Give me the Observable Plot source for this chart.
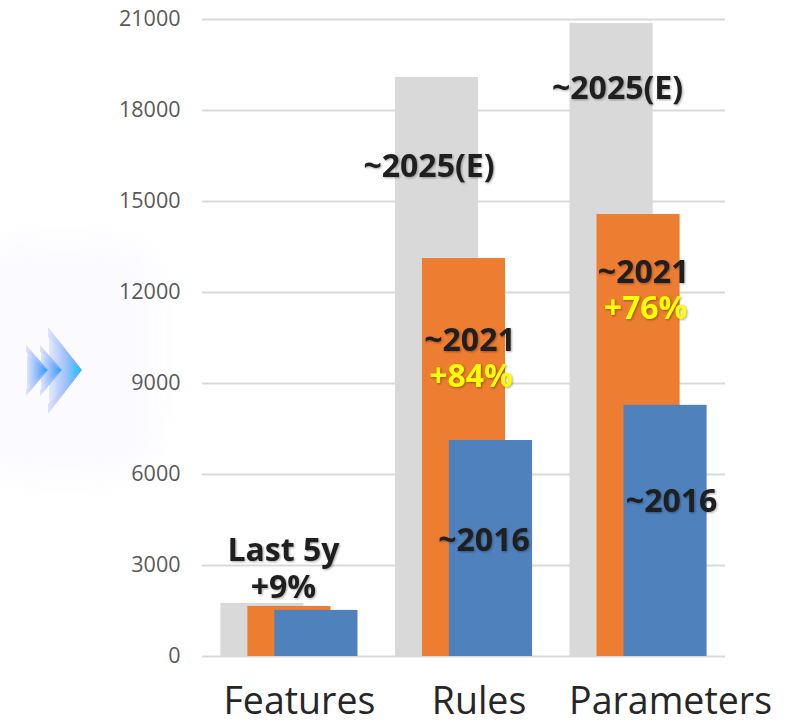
<!DOCTYPE html>
<html>
<head>
<meta charset="utf-8">
<script src="https://cdn.jsdelivr.net/npm/d3@7"></script>
<script src="https://cdn.jsdelivr.net/npm/@observablehq/plot@0.6"></script>
<style>
  html, body { margin: 0; padding: 0; background: #fff; }
  #wrap { position: relative; width: 797px; height: 720px; overflow: hidden; font-family: "Open Sans", sans-serif; }
  #glow { position: absolute; left: -30px; top: 240px; width: 190px; height: 240px; border-radius: 25%;
          background: #fbfbff; filter: blur(14px); }
  #chart { position: absolute; left: 0; top: 0; }
  #arrows { position: absolute; left: 0; top: 300px; }
  .shadow text { filter: drop-shadow(1px 1.5px 1px rgba(0,0,0,.35)); }
</style>
</head>
<body>
<div id="wrap">
  <div id="glow"></div>
  <div id="chart"></div>
  <svg id="arrows" width="140" height="140" viewBox="0 0 140 140" aria-hidden="true">
    <defs>
      <linearGradient id="ag" x1="0" x2="1" y1="0" y2="0">
        <stop offset="0" stop-color="#e4e9fd"/>
        <stop offset=".55" stop-color="#9cc0fb"/>
        <stop offset="1" stop-color="#08c6ff"/>
      </linearGradient>
      <linearGradient id="ab" x1="0" x2="1" y1="0" y2="0">
        <stop offset="0" stop-color="#dde4fd"/>
        <stop offset=".6" stop-color="#7fb2fb"/>
        <stop offset="1" stop-color="#1ea2ff"/>
      </linearGradient>
      <linearGradient id="ae" x1="0" x2="1" y1="0" y2="0">
        <stop offset="0" stop-color="#dfe3fc"/>
        <stop offset="1" stop-color="#5f9dff"/>
      </linearGradient>
    </defs>
    <polygon points="48,27 82,70 48,114 48,104 76,70 48,37" fill="url(#ae)"/>
    <polygon points="49,38 81,70 49,102" fill="url(#ag)"/>
    <polygon points="40,45 62,70 40,96 40,90 57,70 40,52" fill="url(#ae)"/>
    <polygon points="41,54 61,70 41,88" fill="url(#ab)"/>
    <polygon points="26,45 48,70 26,96 26,90 43,70 26,52" fill="url(#ae)"/>
    <polygon points="27,54 47,70 27,88" fill="url(#ab)"/>
  </svg>
</div>
<script>
const categories = ["Features", "Rules", "Parameters"];
const values2025 = [1750, 19090, 20870];
const values2021 = [1650, 13120, 14570];
const values2016 = [1520, 7120, 8280];
const yTicks = [0, 3000, 6000, 9000, 12000, 15000, 18000, 21000];

const grey = "#d9d9d9", orange = "#ed7d31", blue = "#4f81bd";

const rows = v => categories.map((c, i) => ({category: c, value: v[i]}));
const bars = (v, fill, dx) => Plot.barY(rows(v), {x: "category", y: "value", fill, dx});

const note = (text, category, y, dx, fill = "#1f1f1f") =>
  Plot.text([{text, category, y}], {
    x: "category", y: "y", text: "text", dx, fill,
    fontSize: 32, fontWeight: 700, fontFamily: "Open Sans", className: "shadow"
  });

const catAxis = (category, dx) =>
  Plot.axisX({
    ticks: [category], tickSize: 0, tickPadding: 31, dx, label: null,
    fontSize: 37.5, fontFamily: "Open Sans", color: "#262626"
  });

const chart = Plot.plot({
  width: 797, height: 720,
  marginLeft: 202, marginRight: 72, marginTop: 19, marginBottom: 64,
  style: {background: "transparent", overflow: "visible"},
  x: {domain: categories, paddingInner: 0.524, paddingOuter: 0.26, align: 0.5, round: false, label: null, axis: null},
  y: {domain: [0, 21000], label: null, axis: null},
  marks: [
    Plot.gridY({ticks: yTicks, stroke: grey, strokeOpacity: 1, strokeWidth: 2}),
    Plot.axisY({
      ticks: yTicks, tickSize: 0, tickPadding: 22, label: null, tickFormat: d => String(d),
      fontSize: 21.5, fontFamily: "Open Sans", color: "#595959"
    }),
    bars(values2025, grey, -27),
    bars(values2021, orange, 0),
    bars(values2016, blue, 27),
    catAxis("Features", 10),
    catAxis("Rules", 15),
    catAxis("Parameters", 32),
    note("Last 5y", "Features", 3495, -6),
    note("+9%", "Features", 2275, -6),
    note("~2025(E)", "Rules", 16155, -35),
    note("~2021", "Rules", 10420, 6),
    note("+84%", "Rules", 9230, 7, "#ffff00"),
    note("~2016", "Rules", 3825, 20),
    note("~2025(E)", "Parameters", 18725, -21),
    note("~2021", "Parameters", 12660, 5),
    note("+76%", "Parameters", 11470, 7, "#ffff00"),
    note("~2016", "Parameters", 5110, 33)
  ]
});
document.getElementById("chart").appendChild(chart);
</script>
</body>
</html>
